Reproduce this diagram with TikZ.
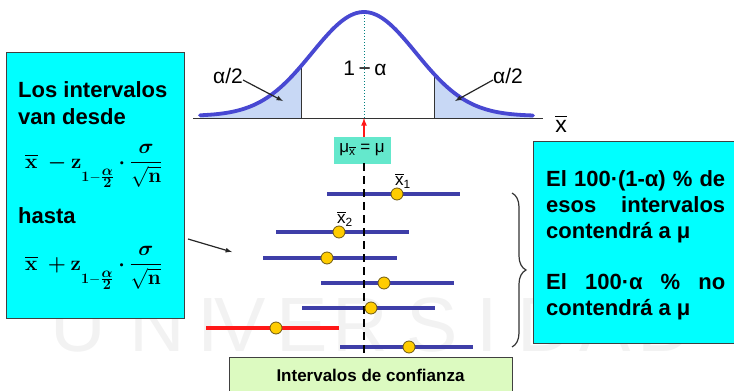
\documentclass[tikz,border=0pt]{standalone}
\usepackage{amsmath}
\usepackage{exscale}
\usepackage[no-math]{fontspec}
\setmainfont{Liberation Sans}
\usetikzlibrary{arrows, positioning, decorations.pathreplacing}

\definecolor{boxcyan}{RGB}{0,255,255}
\definecolor{mugreen}{RGB}{100,232,204}
\definecolor{titlegreen}{RGB}{220,250,192}
\definecolor{curveblue}{RGB}{72,72,210}
\definecolor{tailblue}{RGB}{200,216,245}
\definecolor{ciblue}{RGB}{62,62,168}
\definecolor{cired}{RGB}{255,24,24}
\definecolor{dotgold}{RGB}{255,204,0}
\definecolor{dotedge}{RGB}{110,90,20}
\definecolor{meanteal}{RGB}{0,128,128}

\newcommand{\xbarsym}{\ensuremath{\overline{\text{x}}}}
\newcommand{\ciend}[1]{$\overline{\mathbf{x}}\;\boldsymbol{#1}\mathbf{z}\raisebox{-13pt}{$\scriptstyle\mathbf{1}-\frac{\scriptstyle\boldsymbol{\alpha}}{\scriptstyle\mathbf{2}}$}\boldsymbol{\cdot}{\displaystyle\frac{\boldsymbol{\sigma}}{\sqrt{\mathbf{n}}}}$}

\tikzset{
    infobox/.style={draw=black!75, fill=boxcyan, line width=0.8pt, inner sep=0},
    boxtext/.style={font=\fontsize{22}{26}\selectfont\bfseries, inner sep=0},
    mathtext/.style={font=\fontsize{22}{26}\selectfont, inner sep=0},
    curvelabel/.style={font=\fontsize{21}{24}\selectfont, inner sep=0},
    ciline/.style={line width=4.5pt, draw=ciblue},
    missline/.style={line width=4.5pt, draw=cired},
    meandot/.style={circle, draw=dotedge, fill=dotgold, line width=0.8pt, minimum size=12pt, inner sep=0},
    pointer/.style={-latex, line width=1.2pt, black!85},
    watermark/.style={font=\fontsize{77}{80}\selectfont, text=black!5, inner sep=0},
}

\begin{document}
\begin{tikzpicture}[x=1pt, y=-1pt,
    declare function={bell(\t)=116-104*exp(-0.5*((\t-364)/52)^2);}]
    \useasboundingbox (0,0) rectangle (734,391);

    % Watermark
    \node[watermark] (wU) at (78,325) {U};
    \node[watermark] (wN) at (157,325) {N};
    \node[watermark] (wI) at (208,325) {I};
    \node[watermark] (wV) at (240,325) {V};
    \node[watermark] (wE) at (302,325) {E};
    \node[watermark] (wR) at (360,325) {R};
    \node[watermark] (wS) at (432,325) {S};
    \node[watermark] (wI2) at (487,325) {I};
    \node[watermark] (wD) at (545,325) {D};
    \node[watermark] (wA) at (605,325) {A};
    \node[watermark] (wD2) at (665,325) {D};

    % Sampling distribution
    \fill[tailblue] (200,118) -- plot[domain=200:301, samples=40] (\x, {bell(\x)}) -- (301,118) -- cycle;
    \fill[tailblue] (434,118) -- plot[domain=434:533, samples=40] (\x, {bell(\x)}) -- (533,118) -- cycle;
    \draw[black!80, line width=0.7pt] (301, {bell(301)}) -- (301,118);
    \draw[black!80, line width=0.7pt] (434, {bell(434)}) -- (434,118);
    \draw[meanteal, dotted, line width=1pt] (364,12) -- (364,118);
    \draw[black!80, line width=1pt] (193,118) -- (543,118);
    \draw[curveblue, line width=3.8pt, line cap=round] plot[domain=200:533, samples=120] (\x, {bell(\x)});

    \node[curvelabel] (alphaL) at (228,76) {α/2};
    \node[curvelabel] (alphaR) at (508,76) {α/2};
    \node[curvelabel] (oneMinus) at (365,68) {1\,−\,α};
    \coordinate (tailL) at (283,101);
    \coordinate (tailR) at (455,101);
    \draw[pointer] ([yshift=-4pt]alphaL.east) -- (tailL);
    \draw[pointer] ([yshift=-4pt]alphaR.west) -- (tailR);
    \node[font=\fontsize{23}{26}\selectfont, inner sep=0] (axisX) at (561,124) {\xbarsym};

    % Mean
    \coordinate (axisMu) at (364,118);
    \node[draw=mugreen, fill=mugreen, minimum width=56pt, minimum height=26pt, inner sep=0, font=\fontsize{17}{20}\selectfont] (muBox) at (362,150) {μ$_{\xbarsym}$ = μ};
    \draw[cired, line width=1.6pt, -latex] (axisMu |- muBox.north) -- (axisMu);

    % Intervals
    \coordinate (ci1a) at (327,194); \coordinate (ci1b) at (460,194);
    \coordinate (ci2a) at (276,232); \coordinate (ci2b) at (409,232);
    \coordinate (ci3a) at (263,258); \coordinate (ci3b) at (397,258);
    \coordinate (ci4a) at (321,283); \coordinate (ci4b) at (454,283);
    \coordinate (ci5a) at (302,308); \coordinate (ci5b) at (435,308);
    \coordinate (ci6a) at (206,328); \coordinate (ci6b) at (339,328);
    \coordinate (ci7a) at (340,347); \coordinate (ci7b) at (473,347);
    \draw[ciline] (ci1a) -- (ci1b);
    \draw[ciline] (ci2a) -- (ci2b);
    \draw[ciline] (ci3a) -- (ci3b);
    \draw[ciline] (ci4a) -- (ci4b);
    \draw[ciline] (ci5a) -- (ci5b);
    \draw[missline] (ci6a) -- (ci6b);
    \draw[ciline] (ci7a) -- (ci7b);

    \coordinate (dashEnd) at (364,353);
    \draw[black, line width=2.6pt, dash pattern=on 8pt off 5pt] (axisMu |- muBox.south) -- (dashEnd);

    \node[meandot] (m1) at (397,194) {};
    \node[meandot] (m2) at (339,232) {};
    \node[meandot] (m3) at (327,258) {};
    \node[meandot] (m4) at (384,283) {};
    \node[meandot] (m5) at (371,308) {};
    \node[meandot] (m6) at (276,328) {};
    \node[meandot] (m7) at (409,347) {};
    \node[font=\fontsize{17}{20}\selectfont, inner sep=0] (xb1) at (403,181) {$\xbarsym_{\text{1}}$};
    \node[font=\fontsize{17}{20}\selectfont, inner sep=0] (xb2) at (345,219) {$\xbarsym_{\text{2}}$};

    \draw[black!80, line width=1.2pt, decorate, decoration={brace, amplitude=14pt}] (512,193) -- (512,347);

    % Left box
    \node[infobox, minimum width=178pt, minimum height=266pt] (leftBox) at (95,185) {};
    \node[boxtext, anchor=base west] (losInt) at (18,97) {Los intervalos};
    \node[boxtext, anchor=base west] (vanDesde) at (18,124) {van desde};
    \node[mathtext, anchor=base west] (lowerEnd) at (25,168) {\ciend{-}};
    \node[boxtext, anchor=base west] (hasta) at (18,223) {hasta};
    \node[mathtext, anchor=base west] (upperEnd) at (25,270) {\ciend{+}};
    \coordinate (ptrFrom) at (188,239);
    \coordinate (ciTarget) at (232,252);
    \draw[pointer] (ptrFrom) -- (ciTarget);

    % Right box
    \node[infobox, minimum width=202pt, minimum height=202pt] (rightBox) at (634,242) {};
    \node[boxtext, anchor=base west, text width=179pt, align=justify] (coverText) at (546,186) {El 100·(1-α) \% de\linebreak esos intervalos\linebreak contendrá a μ};
    \node[boxtext, anchor=base west, text width=179pt, align=justify] (missText) at (546,289) {El 100·α \% no\linebreak contendrá a μ};

    % Title
    \node[draw=black!75, fill=titlegreen, line width=0.8pt, minimum width=283pt, minimum height=36pt, inner sep=0] (ciTitle) at (370.5,375) {};
    \node[font=\fontsize{17}{20}\selectfont\bfseries, inner sep=0] (ciTitleText) at (370.5,375) {Intervalos de confianza};
\end{tikzpicture}
\end{document}
